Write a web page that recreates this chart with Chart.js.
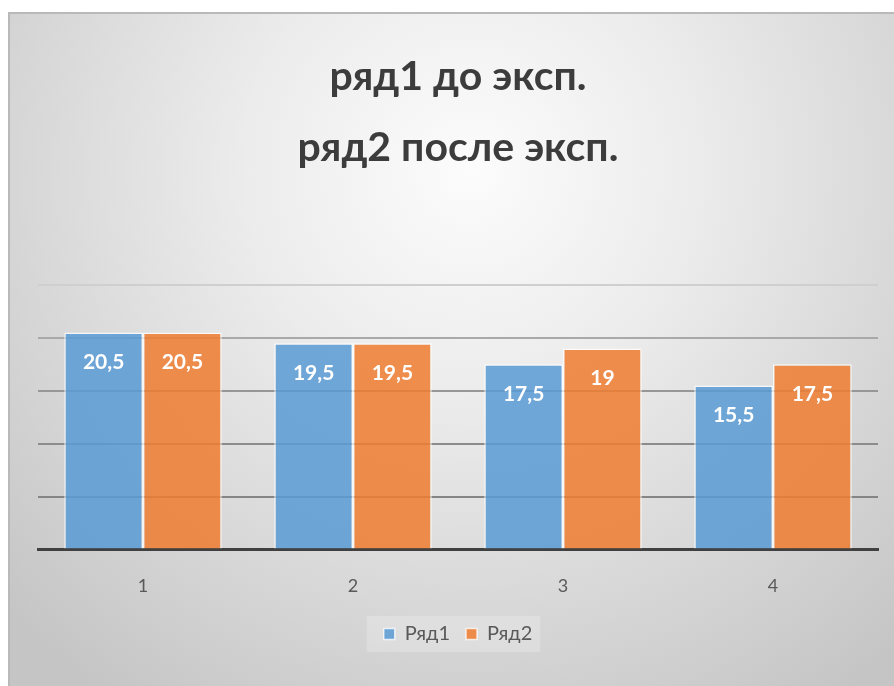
<!DOCTYPE html>
<html>
<head>
<meta charset="utf-8">
<script src="https://cdn.jsdelivr.net/npm/chart.js@4"></script>
<style>
  html, body { margin: 0; padding: 0; background: #ffffff; }
  #wrap { width: 894px; height: 686px; }
</style>
</head>
<body>
<div id="wrap"><canvas id="c" width="894" height="686"></canvas></div>
<script>
// Categories and series values
const categories = ['1', '2', '3', '4'];
const seriesNames = ['Ряд1', 'Ряд2'];
const row1 = [20.5, 19.5, 17.5, 15.5];
const row2 = [20.5, 19.5, 19, 17.5];
const titleLines = ['ряд1 до эксп.', 'ряд2 после эксп.'];
const yTicks = [0, 5, 10, 15, 20, 25];

const FONT = 'Lato, "Open Sans", sans-serif';

// Panel background: soft radial gradient inside a thin frame
const backdrop = {
  id: 'backdrop',
  beforeDraw(chart) {
    const ctx = chart.ctx;
    const W = chart.width, H = chart.height;
    ctx.save();
    ctx.fillStyle = '#ffffff';
    ctx.fillRect(0, 0, W, H);
    const x0 = 8, y0 = 12;
    const g = ctx.createRadialGradient(470, 170, 0, 470, 170, 640);
    g.addColorStop(0, '#fcfcfc');
    g.addColorStop(0.35, '#ececec');
    g.addColorStop(1, '#c5c5c5');
    ctx.fillStyle = g;
    ctx.fillRect(x0, y0, W - x0, H - y0);
    ctx.fillStyle = '#b9b9b9';
    ctx.fillRect(x0, y0, 2, H - y0);
    ctx.fillRect(x0, y0, W - x0, 2);
    // faint panel behind the legend entries
    const lg = chart.legend;
    if (lg && lg.legendHitBoxes && lg.legendHitBoxes.length) {
      const boxes = lg.legendHitBoxes;
      const l = Math.min(...boxes.map(b => b.left)) - 17;
      const r = Math.max(...boxes.map(b => b.left + b.width)) + 8;
      const t = Math.min(...boxes.map(b => b.top)) - 8;
      const bt = Math.max(...boxes.map(b => b.top + b.height)) + 8;
      ctx.fillStyle = 'rgba(255,255,255,0.22)';
      ctx.fillRect(l, t, r - l, bt - t);
    }
    ctx.restore();
  }
};

// White value labels near the top of each bar
const barValues = {
  id: 'barValues',
  afterDatasetsDraw(chart) {
    const ctx = chart.ctx;
    ctx.save();
    ctx.font = 'bold 21px ' + FONT;
    ctx.fillStyle = '#ffffff';
    ctx.textAlign = 'center';
    ctx.textBaseline = 'middle';
    chart.data.datasets.forEach((ds, i) => {
      chart.getDatasetMeta(i).data.forEach((bar, j) => {
        const txt = String(ds.data[j]).replace('.', ',');
        ctx.fillText(txt, bar.x, bar.y + 30);
      });
    });
    ctx.restore();
  }
};

const gridShades = { 25: '#cfcfcf', 20: '#a9a9a9', 15: '#979797', 10: '#8c8c8c', 5: '#858585', 0: 'rgba(0,0,0,0)' };

new Chart(document.getElementById('c'), {
  type: 'bar',
  data: {
    labels: categories,
    datasets: [
      {
        label: seriesNames[0],
        data: row1,
        backgroundColor: 'rgba(91,155,213,0.86)',
        borderColor: 'rgba(255,255,255,0.75)',
        borderWidth: 1.5
      },
      {
        label: seriesNames[1],
        data: row2,
        backgroundColor: 'rgba(237,125,49,0.86)',
        borderColor: 'rgba(255,255,255,0.75)',
        borderWidth: 1.5
      }
    ]
  },
  options: {
    responsive: false,
    animation: false,
    layout: { padding: { top: 12, left: 38, right: 16, bottom: 32 } },
    datasets: { bar: { categoryPercentage: 0.75, barPercentage: 1.0 } },
    scales: {
      x: {
        grid: { display: false, drawTicks: false },
        border: { display: true, color: '#404040', width: 3 },
        ticks: { color: '#595959', font: { family: FONT, size: 18 }, padding: 26 },
        // pull the legend a little closer to the category labels
        afterFit(scale) { scale.height -= 15; }
      },
      y: {
        min: yTicks[0],
        max: yTicks[yTicks.length - 1],
        afterBuildTicks(scale) { scale.ticks = yTicks.map(v => ({ value: v })); },
        ticks: { display: false },
        border: { display: false },
        grid: {
          drawTicks: false,
          lineWidth: 2,
          color: (c) => gridShades[c.tick.value] || '#999999'
        }
      }
    },
    plugins: {
      title: {
        display: true,
        text: titleLines,
        color: '#3c3c3c',
        font: { family: FONT, size: 41, weight: 'bold', lineHeight: 1.72 },
        padding: { top: 30, bottom: 102 }
      },
      legend: {
        position: 'bottom',
        labels: {
          color: '#595959',
          font: { family: FONT, size: 20 },
          boxWidth: 11,
          boxHeight: 11,
          padding: 16
        }
      },
      tooltip: { enabled: false }
    }
  },
  plugins: [backdrop, barValues]
});
</script>
</body>
</html>
